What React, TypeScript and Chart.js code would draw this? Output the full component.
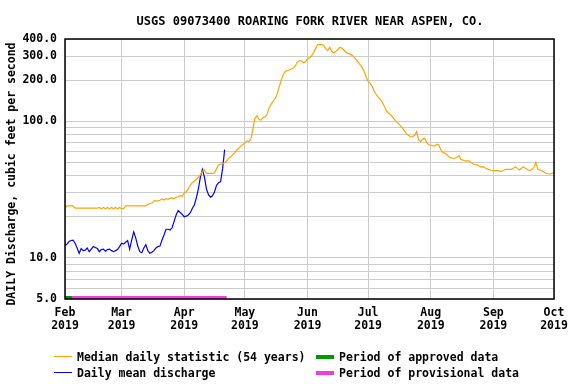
import React, { useEffect, useRef } from 'react';
import { Chart, registerables } from 'chart.js';

Chart.register(...registerables);

const FONT = "'DejaVu Sans Mono', monospace";

const chartTitle = 'USGS 09073400 ROARING FORK RIVER NEAR ASPEN, CO.';
const yAxisTitle = 'DAILY Discharge, cubic feet per second';

// x positions are days since 2019-02-01
const monthTickDays = [0, 28, 59, 89, 120, 150, 181, 212, 242];
const monthLabels = ['Feb', 'Mar', 'Apr', 'May', 'Jun', 'Jul', 'Aug', 'Sep', 'Oct'];
const yearLabel = '2019';

const yGridValues = [5, 6, 7, 8, 9, 10, 20, 30, 40, 50, 60, 70, 80, 90, 100, 200, 300, 400];
const yLabeledValues = [5, 10, 100, 200, 300, 400];

// Median daily statistic (54 years), Feb 1 .. Oct 1
const medianValues = [
  23.1, 24.0, 24.0, 24.0, 24.0, 23.1, 23.1, 23.1, 23.1, 23.1,
  23.1, 23.1, 23.1, 23.1, 23.1, 23.1, 23.1, 23.4, 22.9, 23.4,
  22.9, 23.4, 22.9, 23.4, 22.9, 23.4, 22.9, 23.4, 22.9, 22.9,
  24.0, 24.0, 24.0, 24.0, 24.0, 24.0, 24.0, 24.0, 24.0, 24.0,
  24.0, 24.6, 25.1, 25.1, 26.1, 26.1, 26.1, 26.4, 27.0, 26.5,
  27.1, 26.8, 27.3, 27.5, 27.2, 27.8, 28.0, 28.5, 28.2, 29.7,
  30.5, 32, 34, 35.5, 36.5, 37.5, 39, 40.5, 43, 44,
  41.6, 41.6, 41.6, 41.6, 42, 45, 47.9, 48.5, 49, 49.7,
  51, 53.5, 55, 57, 59, 61.5, 63.5, 65.5, 67.5, 69,
  72, 71, 74, 88, 105, 110, 103, 102, 106, 108,
  112, 125, 133, 140, 146, 158, 178, 200, 220, 232,
  235, 237, 241, 245, 255, 270, 278, 276, 268, 272,
  286, 292, 300, 318, 340, 364, 364, 364, 360, 340,
  329, 348, 325, 316, 325, 335, 348, 342, 332, 320,
  314, 310, 305, 295, 284, 272, 260, 248, 232, 212,
  196, 190, 180, 166, 157, 150, 145, 138, 129, 120,
  115, 112, 108, 103, 99, 96, 93, 89, 85, 81,
  79, 77, 77, 79, 84, 73, 71, 74, 75, 70,
  67, 67, 66, 66, 68, 67, 62, 59, 58.5, 57,
  55, 54, 53.6, 53.6, 54.5, 56, 52.5, 52, 51.2, 51.2,
  51.2, 50, 48.6, 48.2, 47.9, 47, 46.2, 46.5, 45.5, 44.8,
  44.2, 43.8, 43.5, 43.5, 43.5, 43.2, 43.0, 43.6, 44.5, 44.5,
  44.5, 44.5, 45.5, 46.5, 45, 44, 45.5, 46.5, 45, 44.2,
  43.5, 44.5, 45.5, 50, 44.5, 44, 43.3, 42.5, 41.6, 41.3,
  41.1, 41.6, 42.0,
];

// Daily mean discharge, Feb 1 .. Apr 21
const dailyMeanValues = [
  12.3, 12.6, 13.2, 13.4, 13.5, 12.8, 11.8, 10.8, 11.7, 11.3,
  11.4, 11.8, 11.1, 11.6, 12.1, 11.9, 11.7, 11.1, 11.5, 11.6,
  11.2, 11.5, 11.6, 11.3, 11.1, 11.3, 11.5, 12.1, 12.8, 12.6,
  13.0, 13.4, 11.6, 13.5, 15.5, 14.0, 12.2, 11.1, 10.9, 11.8,
  12.5, 11.3, 10.8, 11.0, 11.3, 11.8, 12.1, 12.2, 13.5, 14.7,
  16.2, 16.2, 16.0, 16.6, 18.5, 20.6, 22.2, 21.5, 20.8, 20.0,
  20.2, 20.6, 21.4, 23, 24.4, 27.5, 32, 39, 44.5, 39,
  32, 29, 27.8, 28.5, 30.5, 34, 35.5, 36.1, 45, 62,
];

const approvedDays = [0, 3.5];
const provisionalDays = [3.5, 80];

const toPoints = (vals: number[]) => vals.map((y, i) => ({ x: i, y }));
const periodPoints = (range: number[]) => range.map((x) => ({ x, y: yGridValues[0] }));

const plotBox = {
  id: 'plotBox',
  afterDatasetsDraw(chart: any) {
    const { ctx, chartArea } = chart;
    const { left, top, right, bottom } = chartArea;
    ctx.save();
    ctx.strokeStyle = '#000';
    ctx.lineWidth = 1.5;
    ctx.strokeRect(left, top, right - left, bottom - top);
    ctx.restore();
  },
};

export default function App() {
  const ref = useRef<HTMLCanvasElement>(null);

  useEffect(() => {
    if (!ref.current) return;
    const chart = new Chart(ref.current, {
      type: 'line',
      data: {
        datasets: [
          {
            label: 'Median daily statistic (54 years)',
            data: toPoints(medianValues),
            borderColor: '#ffa500',
            borderWidth: 1.2,
            pointRadius: 0,
            tension: 0,
          },
          {
            label: 'Daily mean discharge',
            data: toPoints(dailyMeanValues),
            borderColor: '#0000ff',
            borderWidth: 1.2,
            pointRadius: 0,
            tension: 0,
          },
          {
            label: 'Period of approved data',
            data: periodPoints(approvedDays),
            borderColor: '#009a00',
            borderWidth: 6,
            pointRadius: 0,
            clip: 0,
          },
          {
            label: 'Period of provisional data',
            data: periodPoints(provisionalDays),
            borderColor: '#f03ed9',
            borderWidth: 6,
            pointRadius: 0,
            clip: 0,
          },
        ],
      },
      options: {
        responsive: false,
        animation: false,
        devicePixelRatio: 1,
        events: [],
        layout: { padding: { left: 0, right: 22, top: 39, bottom: 45 } },
        plugins: {
          legend: { display: false },
          tooltip: { enabled: false },
          title: { display: false },
        },
        scales: {
          x: {
            type: 'linear',
            min: monthTickDays[0],
            max: monthTickDays[monthTickDays.length - 1],
            afterBuildTicks: (scale: any) => {
              scale.ticks = monthTickDays.map((v) => ({ value: v }));
            },
            afterFit: (scale: any) => {
              scale.height = 40;
            },
            grid: { color: '#cccccc', lineWidth: 1, drawTicks: false },
            border: { display: false },
            ticks: {
              autoSkip: false,
              maxRotation: 0,
              padding: 8,
              color: '#000',
              font: { family: FONT, size: 11.5, weight: 'bold', lineHeight: 1.08 },
              callback: (_v: any, i: number) => [monthLabels[i], yearLabel],
            },
          },
          y: {
            type: 'logarithmic',
            min: yGridValues[0],
            max: yGridValues[yGridValues.length - 1],
            afterBuildTicks: (scale: any) => {
              scale.ticks = yGridValues.map((v) => ({ value: v }));
            },
            afterFit: (scale: any) => {
              scale.width = 65;
            },
            grid: { color: '#cccccc', lineWidth: 1, drawTicks: false },
            border: { display: false },
            ticks: {
              autoSkip: false,
              padding: 8,
              color: '#000',
              font: { family: FONT, size: 11.5, weight: 'bold' },
              callback: (v: any) => (yLabeledValues.includes(Number(v)) ? Number(v).toFixed(1) : ''),
            },
            title: { display: false },
          },
        },
      },
      plugins: [plotBox],
    } as any);
    return () => chart.destroy();
  }, []);

  const textStyle: React.CSSProperties = {
    position: 'absolute',
    fontFamily: FONT,
    fontWeight: 'bold',
    fontSize: '11.5px',
    lineHeight: '14px',
    whiteSpace: 'pre',
    color: '#000',
  };
  const lineSample = (left: number, top: number, color: string, h: number): React.CSSProperties => ({
    position: 'absolute',
    left,
    top,
    width: 18,
    height: h,
    background: color,
  });

  return (
    <div style={{ position: 'absolute', left: 0, top: 0, width: 576, height: 384, background: '#fff', overflow: 'hidden' }}>
      <canvas ref={ref} width={576} height={384} style={{ position: 'absolute', left: 0, top: 0 }} />
      <div style={{ ...textStyle, fontSize: '12px', left: 0, width: 620, top: 14, textAlign: 'center' }}>{chartTitle}</div>
      <div
        style={{
          ...textStyle,
          left: 10.5 - 150,
          top: 174 - 7,
          width: 300,
          height: 14,
          textAlign: 'center',
          transform: 'rotate(-90deg)',
          transformOrigin: '50% 50%',
        }}
      >
        {yAxisTitle}
      </div>
      <div style={lineSample(54, 356, '#ffa500', 1)} />
      <div style={{ ...textStyle, left: 77, top: 350 }}>Median daily statistic (54 years)</div>
      <div style={lineSample(54, 372, '#0000ff', 1)} />
      <div style={{ ...textStyle, left: 77, top: 366 }}>Daily mean discharge</div>
      <div style={lineSample(316, 355, '#009a00', 4)} />
      <div style={{ ...textStyle, left: 339, top: 350 }}>Period of approved data</div>
      <div style={lineSample(316, 371, '#f03ed9', 4)} />
      <div style={{ ...textStyle, left: 339, top: 366 }}>Period of provisional data</div>
    </div>
  );
}
